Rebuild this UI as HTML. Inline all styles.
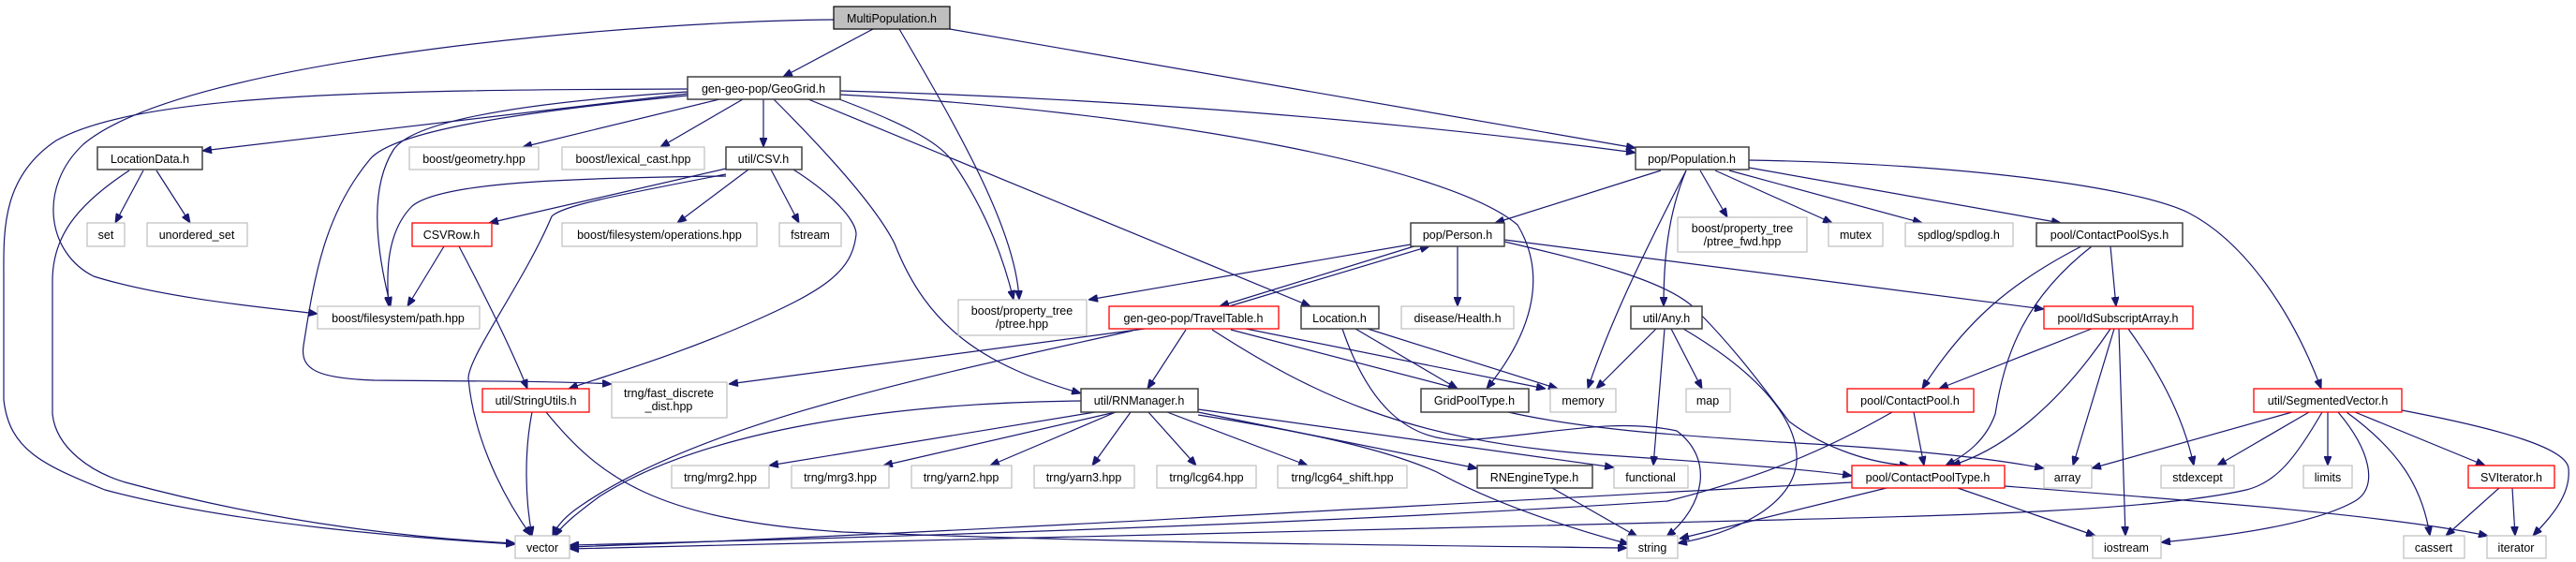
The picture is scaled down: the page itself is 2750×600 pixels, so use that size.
<!DOCTYPE html>
<html><head><meta charset="utf-8"><style>
html,body{margin:0;padding:0;background:#fff}
svg{display:block}
text{font-family:"Liberation Sans",sans-serif;font-size:12.5px;fill:#000;text-anchor:middle}
.e{fill:none;stroke:#191970;stroke-width:1.2;marker-end:url(#a)}
.g{fill:#fff;stroke:#bfbfbf;stroke-width:1.2}
.d{fill:#fff;stroke:#404040;stroke-width:1.5}
.r{fill:#fff;stroke:#ff0000;stroke-width:1.3}
</style></head><body>
<svg width="2750" height="600" viewBox="0 0 2750 600" xmlns="http://www.w3.org/2000/svg">
<defs><marker id="a" markerWidth="10" markerHeight="8" refX="10" refY="4" orient="auto" markerUnits="userSpaceOnUse"><path d="M0,0 L10,4 L0,8 z" fill="#191970" stroke="#191970"/></marker></defs>
<!-- edges -->
<path class="e" d="M932,31 L836,82"/>
<path class="e" d="M960,31 C1030,150 1085,250 1088,320"/>
<path class="e" d="M1014,31 L1746,158"/>
<path class="e" d="M890,21 C700,22 200,60 89,154 C40,200 50,270 100,295 C180,320 300,330 339,335"/>
<path class="e" d="M734,100 L216,161"/>
<path class="e" d="M734,95 C400,96 150,100 60,150 C0,190 4,250 4,300 L4,427 C10,480 45,496 112,523 C250,560 450,575 550,581"/>
<path class="e" d="M138,182 C80,220 56,254 56,300 L56,442 C60,480 100,505 134,515 C300,560 450,575 550,580"/>
<path class="e" d="M734,98 C550,110 440,130 420,160 C395,200 400,260 417,327"/>
<path class="e" d="M775,188 C600,190 470,195 440,220 C410,250 413,300 415,327"/>
<path class="e" d="M474,263 L435,327"/>
<path class="e" d="M734,102 C550,120 420,140 395,170 C345,230 335,300 324,369 C320,395 340,404 400,406 C520,407 600,407 653,410"/>
<path class="e" d="M768,106 L558,157"/>
<path class="e" d="M793,106 L705,157"/>
<path class="e" d="M815,106 L815,157"/>
<path class="e" d="M775,180 L522,238"/>
<path class="e" d="M799,181 L723,238"/>
<path class="e" d="M823,181 L853,238"/>
<path class="e" d="M775,186 C650,210 600,220 589,231 C560,300 500,380 500,404 C505,460 530,520 567,572"/>
<path class="e" d="M847,181 C900,215 914,240 914,250 C910,290 880,310 800,345 C720,380 650,400 607,415"/>
<path class="e" d="M490,263 C520,320 545,370 563,415"/>
<path class="e" d="M568,440 C560,480 560,530 568,572"/>
<path class="e" d="M583,440 C640,510 700,555 900,568 C1200,580 1500,582 1737,585"/>
<path class="e" d="M826,106 C900,180 940,230 955,260 C990,350 1050,390 1154,420"/>
<path class="e" d="M896,106 C960,130 1000,150 1015,170 C1050,220 1070,270 1082,320"/>
<path class="e" d="M863,106 L1399,327"/>
<path class="e" d="M897,97 C1200,105 1500,130 1746,163"/>
<path class="e" d="M897,101 C1250,120 1550,180 1620,240 C1650,290 1640,350 1587,415"/>
<path class="e" d="M153,182 L123,238"/>
<path class="e" d="M167,182 L203,238"/>
<path class="e" d="M1773,182 L1596,238"/>
<path class="e" d="M1800,182 C1760,260 1720,340 1695,415"/>
<path class="e" d="M1800,182 C1780,230 1776,280 1776,327"/>
<path class="e" d="M1815,182 L1844,232"/>
<path class="e" d="M1831,182 L1956,238"/>
<path class="e" d="M1846,182 L2052,238"/>
<path class="e" d="M1867,179 L2200,238"/>
<path class="e" d="M1867,171 C2100,175 2280,200 2336,227 C2400,260 2450,340 2478,415"/>
<path class="e" d="M1506,261 L1162,320"/>
<path class="e" d="M1312,327 L1526,263"/>
<path class="e" d="M1516,261 L1302,327"/>
<path class="e" d="M1556,263 L1556,327"/>
<path class="e" d="M1606,256 L2182,330"/>
<path class="e" d="M1606,258 C1700,280 1780,300 1810,330 C1850,370 1880,410 1910,450 C1950,480 2000,495 2038,497"/>
<path class="e" d="M1222,351 L778,410"/>
<path class="e" d="M1209,353 C1000,400 750,450 620,540 C605,550 595,560 590,572"/>
<path class="e" d="M1266,352 L1225,415"/>
<path class="e" d="M1314,352 L1556,415"/>
<path class="e" d="M1330,351 L1650,415"/>
<path class="e" d="M1294,352 C1400,420 1500,470 1700,485 C1850,495 1940,502 1977,508"/>
<path class="e" d="M1447,351 L1556,415"/>
<path class="e" d="M1460,351 L1663,415"/>
<path class="e" d="M1433,351 C1460,430 1500,470 1560,470 C1650,465 1720,445 1790,460 C1830,490 1820,540 1779,573"/>
<path class="e" d="M1610,440 C1700,460 1800,465 1900,472 C2050,480 2130,490 2182,500"/>
<path class="e" d="M1768,351 L1704,415"/>
<path class="e" d="M1777,351 L1765,497"/>
<path class="e" d="M1784,351 L1817,415"/>
<path class="e" d="M1797,351 C1880,400 1920,450 1918,492 C1915,540 1850,570 1791,580"/>
<path class="e" d="M1169,440 L821,497"/>
<path class="e" d="M1191,440 L943,497"/>
<path class="e" d="M1191,440 L1057,497"/>
<path class="e" d="M1207,440 L1166,497"/>
<path class="e" d="M1226,440 L1277,497"/>
<path class="e" d="M1246,440 L1396,497"/>
<path class="e" d="M1279,440 L1577,500"/>
<path class="e" d="M1279,437 L1723,499"/>
<path class="e" d="M1279,443 C1400,462 1480,480 1534,504 C1600,540 1680,565 1739,581"/>
<path class="e" d="M1154,428 C950,430 750,460 640,530 C620,545 600,560 592,573"/>
<path class="e" d="M1657,521 L1748,573"/>
<path class="e" d="M2222,263 C2150,300 2100,340 2052,415"/>
<path class="e" d="M2233,263 C2160,320 2140,380 2130,442 C2120,470 2100,485 2077,497"/>
<path class="e" d="M2253,263 L2259,327"/>
<path class="e" d="M2233,351 L2070,415"/>
<path class="e" d="M2253,351 C2200,430 2140,480 2083,497"/>
<path class="e" d="M2257,351 L2213,497"/>
<path class="e" d="M2262,351 L2269,572"/>
<path class="e" d="M2272,351 C2300,390 2330,440 2342,497"/>
<path class="e" d="M2043,440 L2054,497"/>
<path class="e" d="M2020,440 C1950,480 1880,510 1780,535 C1400,560 900,575 608,582"/>
<path class="e" d="M1977,515 C1500,540 1000,570 608,584"/>
<path class="e" d="M2014,521 L1793,575"/>
<path class="e" d="M2090,521 L2237,572"/>
<path class="e" d="M2140,519 C2350,535 2550,550 2656,572"/>
<path class="e" d="M2447,440 L2233,500"/>
<path class="e" d="M2465,440 L2367,497"/>
<path class="e" d="M2485,440 L2485,497"/>
<path class="e" d="M2479,440 C2450,490 2430,515 2398,523 C2300,545 2100,550 1900,555 C1400,570 900,580 608,586"/>
<path class="e" d="M2496,440 C2530,480 2540,520 2514,535 C2470,560 2380,572 2307,579"/>
<path class="e" d="M2505,440 C2560,480 2586,519 2594,572"/>
<path class="e" d="M2514,440 L2653,497"/>
<path class="e" d="M2564,438 C2680,460 2740,480 2742,500 C2745,530 2720,555 2704,572"/>
<path class="e" d="M2668,521 L2611,572"/>
<path class="e" d="M2682,521 L2685,572"/>
<!-- nodes -->
<rect x="890" y="7" width="124" height="24" fill="#bfbfbf" stroke="#000" stroke-width="1.2"/><text x="952" y="24">MultiPopulation.h</text>
<rect class="d" x="734" y="82" width="163" height="24"/><text x="815" y="99">gen-geo-pop/GeoGrid.h</text>
<rect class="d" x="104" y="157" width="112" height="24"/><text x="160" y="174">LocationData.h</text>
<rect class="g" x="437" y="157" width="138" height="24"/><text x="506" y="174">boost/geometry.hpp</text>
<rect class="g" x="600" y="157" width="152" height="24"/><text x="676" y="174">boost/lexical_cast.hpp</text>
<rect class="d" x="775" y="157" width="81" height="24"/><text x="815" y="174">util/CSV.h</text>
<rect class="d" x="1746" y="157" width="121" height="24"/><text x="1806" y="174">pop/Population.h</text>
<rect class="g" x="93" y="238" width="40" height="25"/><text x="113" y="255">set</text>
<rect class="g" x="157" y="238" width="107" height="25"/><text x="210" y="255">unordered_set</text>
<rect class="r" x="440" y="238" width="85" height="25"/><text x="482" y="255">CSVRow.h</text>
<rect class="g" x="600" y="238" width="208" height="25"/><text x="704" y="255">boost/filesystem/operations.hpp</text>
<rect class="g" x="832" y="238" width="66" height="25"/><text x="865" y="255">fstream</text>
<rect class="d" x="1506" y="238" width="100" height="25"/><text x="1556" y="255">pop/Person.h</text>
<rect class="g" x="1791" y="232" width="138" height="37"/><text x="1860" y="248">boost/property_tree</text><text x="1860" y="262">/ptree_fwd.hpp</text>
<rect class="g" x="1952" y="238" width="58" height="25"/><text x="1981" y="255">mutex</text>
<rect class="g" x="2034" y="238" width="115" height="25"/><text x="2091" y="255">spdlog/spdlog.h</text>
<rect class="d" x="2174" y="238" width="156" height="25"/><text x="2252" y="255">pool/ContactPoolSys.h</text>
<rect class="g" x="339" y="327" width="173" height="24"/><text x="425" y="344">boost/filesystem/path.hpp</text>
<rect class="g" x="1023" y="320" width="137" height="38"/><text x="1091" y="336">boost/property_tree</text><text x="1091" y="350">/ptree.hpp</text>
<rect class="r" x="1184" y="327" width="181" height="24"/><text x="1274" y="344">gen-geo-pop/TravelTable.h</text>
<rect class="d" x="1389" y="327" width="83" height="24"/><text x="1430" y="344">Location.h</text>
<rect class="g" x="1496" y="327" width="120" height="24"/><text x="1556" y="344">disease/Health.h</text>
<rect class="d" x="1741" y="327" width="76" height="24"/><text x="1779" y="344">util/Any.h</text>
<rect class="r" x="2182" y="327" width="159" height="24"/><text x="2261" y="344">pool/IdSubscriptArray.h</text>
<rect class="r" x="515" y="415" width="114" height="25"/><text x="572" y="432">util/StringUtils.h</text>
<rect class="g" x="653" y="408" width="123" height="38"/><text x="714" y="424">trng/fast_discrete</text><text x="714" y="438">_dist.hpp</text>
<rect class="d" x="1154" y="415" width="125" height="25"/><text x="1216" y="432">util/RNManager.h</text>
<rect class="d" x="1517" y="415" width="115" height="25"/><text x="1574" y="432">GridPoolType.h</text>
<rect class="g" x="1655" y="415" width="70" height="25"/><text x="1690" y="432">memory</text>
<rect class="g" x="1800" y="415" width="47" height="25"/><text x="1823" y="432">map</text>
<rect class="r" x="1972" y="415" width="135" height="25"/><text x="2039" y="432">pool/ContactPool.h</text>
<rect class="r" x="2406" y="415" width="158" height="25"/><text x="2485" y="432">util/SegmentedVector.h</text>
<rect class="g" x="717" y="497" width="104" height="24"/><text x="769" y="514">trng/mrg2.hpp</text>
<rect class="g" x="845" y="497" width="104" height="24"/><text x="897" y="514">trng/mrg3.hpp</text>
<rect class="g" x="973" y="497" width="107" height="24"/><text x="1026" y="514">trng/yarn2.hpp</text>
<rect class="g" x="1104" y="497" width="107" height="24"/><text x="1157" y="514">trng/yarn3.hpp</text>
<rect class="g" x="1235" y="497" width="106" height="24"/><text x="1288" y="514">trng/lcg64.hpp</text>
<rect class="g" x="1364" y="497" width="138" height="24"/><text x="1433" y="514">trng/lcg64_shift.hpp</text>
<rect class="d" x="1577" y="497" width="123" height="24"/><text x="1638" y="514">RNEngineType.h</text>
<rect class="g" x="1723" y="497" width="79" height="24"/><text x="1762" y="514">functional</text>
<rect class="r" x="1977" y="497" width="163" height="24"/><text x="2058" y="514">pool/ContactPoolType.h</text>
<rect class="g" x="2182" y="497" width="51" height="24"/><text x="2207" y="514">array</text>
<rect class="g" x="2307" y="497" width="78" height="24"/><text x="2346" y="514">stdexcept</text>
<rect class="g" x="2459" y="497" width="52" height="24"/><text x="2485" y="514">limits</text>
<rect class="r" x="2635" y="497" width="92" height="24"/><text x="2681" y="514">SVIterator.h</text>
<rect class="g" x="550" y="572" width="58" height="24"/><text x="579" y="589">vector</text>
<rect class="g" x="1737" y="572" width="54" height="24"/><text x="1764" y="589">string</text>
<rect class="g" x="2234" y="572" width="73" height="24"/><text x="2270" y="589">iostream</text>
<rect class="g" x="2566" y="572" width="65" height="24"/><text x="2598" y="589">cassert</text>
<rect class="g" x="2655" y="572" width="63" height="24"/><text x="2686" y="589">iterator</text>
</svg>
</body></html>
